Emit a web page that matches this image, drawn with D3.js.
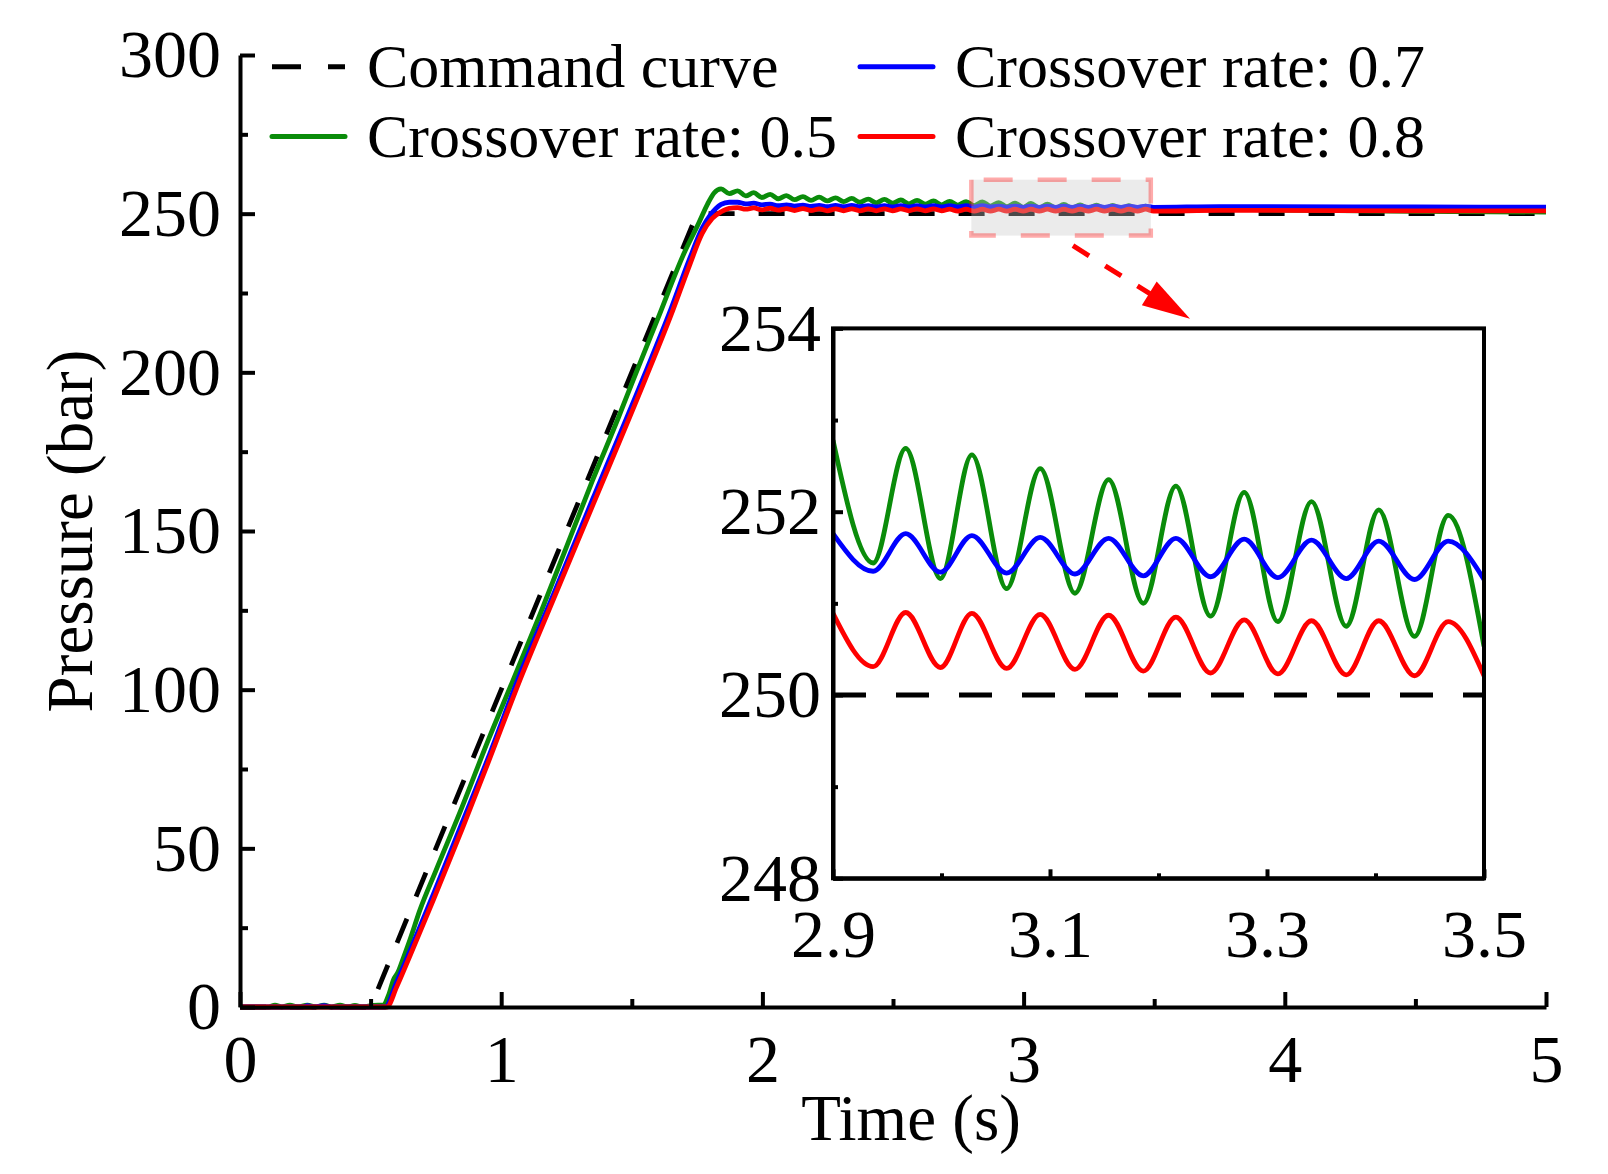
<!DOCTYPE html>
<html><head><meta charset="utf-8">
<script src="https://cdn.jsdelivr.net/npm/d3@7"></script>
<style>
body{margin:0;background:#fff}
svg{display:block}
text{font-family:"Liberation Serif","Times New Roman",serif;fill:#000}
</style>
</head><body>
<svg id="c" width="1608" height="1174"></svg>
<script>
// ---------------- DATA ----------------
const seriesNames = ["Command curve","Crossover rate: 0.5","Crossover rate: 0.7","Crossover rate: 0.8"];
const seriesColors = ["#000000","#0a8c0a","#0000ff","#ff0000"];

const xTicksMain = [0,1,2,3,4,5];
const yTicksMain = [0,50,100,150,200,250,300];
const xTicksInset = [2.9,3.1,3.3,3.5];
const yTicksInset = [248,250,252,254];

// command curve (time s, pressure bar)
const commandMain = [[0,0],[0.5,0],[1.75,250],[5,250]];

// rising part of the responses
const greenRise = [[0,0],[0.11,0],[0.134,0.6],[0.16,0],[0.191,0.6],[0.22,0],[0.258,0.6],[0.29,0],[0.322,0.6],[0.35,0],[0.383,0.6],[0.41,0],[0.44,0.5],[0.47,0],[0.51,0.5],[0.547,0.6],[0.57,4],[0.587,8.5],[0.605,11],[0.619,14],[0.65,21],[0.689,30.6],[0.75,43],[0.85,63],[0.95,84],[1.046,103.1],[1.15,124],[1.25,145],[1.35,166],[1.45,186],[1.506,197.7],[1.60,217],[1.70,237.5],[1.755,246.8],[1.79,253],[1.815,256.5]];
const blueRise = [[0,0],[0.24,0],[0.258,0.4],[0.28,0],[0.322,0.4],[0.35,0],[0.556,0],[0.598,7.5],[0.65,17.5],[0.74,35.5],[0.85,58],[0.95,78.5],[1.07,104.5],[1.2,130],[1.35,160],[1.55,199.5],[1.65,220],[1.72,235.5],[1.77,245.5],[1.80,249.5],[1.822,251.6]];
const redRise = [[0,0],[0.562,0],[0.600,6.4],[0.65,16],[0.74,33.7],[0.85,56],[0.95,77],[1.072,103.1],[1.2,128.5],[1.35,158],[1.551,197.7],[1.65,218],[1.72,233.5],[1.769,243.7],[1.808,248.5]];

// plateau oscillation extremes (shared times)
const plateauT = [1.842,1.873,1.905,1.936,1.967,1.998,2.030,2.061,2.092,2.123,
  2.155,2.186,2.217,2.248,2.280,2.311,2.342,2.373,2.405,2.436,
  2.467,2.498,2.530,2.561,2.592,2.623,2.655,2.686,2.717,2.748,
  2.780,2.811,2.842,2.873,2.905,2.936,2.967,2.999,3.028,3.060,
  3.091,3.123,3.154,3.186,3.216,3.248,3.279,3.310,3.341,3.373,
  3.403,3.436,3.467,3.498];
const greenPlateau = [257.8,256.3,257.2,255.6,256.6,255.1,256.1,254.7,255.7,254.4,
  255.4,254.2,255.2,254.0,255.0,253.8,254.8,253.6,254.6,253.4,
  254.5,253.3,254.3,253.1,254.2,253.0,254.0,252.8,253.9,252.7,
  253.8,252.5,253.7,252.4,253.5,252.2,253.3,252.0,253.2,251.9,
  253.0,251.8,252.9,251.7,252.8,251.6,252.7,251.5,252.6,251.4,
  252.5,251.3,252.4,251.2];
const bluePlateau = [252.9,253.6,253.6,253.1,253.3,252.8,253.0,252.5,252.8,252.4,
  252.7,252.3,252.6,252.2,252.6,252.2,252.6,252.2,252.5,252.1,
  252.5,252.1,252.5,252.1,252.5,252.1,252.5,252.1,252.5,252.1,
  252.5,252.1,252.5,252.1,252.4,252.0,252.4,252.0,252.4,252.0,
  252.4,252.0,252.4,252.0,252.4,252.0,252.4,252.0,252.4,252.0,
  252.4,252.0,252.4,252.0];
const redPlateau = [250.6,251.7,251.9,251.4,251.8,251.2,251.7,251.1,251.6,251.0,
  251.6,251.0,251.5,250.9,251.5,250.9,251.5,250.9,251.5,250.9,
  251.5,250.9,251.5,250.9,251.5,250.9,251.5,250.9,251.4,250.8,
  251.4,250.8,251.4,250.8,251.4,250.8,251.4,250.8,251.4,250.8,
  251.4,250.8,251.4,250.8,251.4,250.8,251.4,250.8,251.4,250.8,
  251.4,250.8,251.4,250.8];

// tail
const greenTail = [[3.6,251.7],[4.0,251.1],[4.5,250.7],[5.0,250.5]];
const blueTail = [[3.75,252.2],[4.5,252.1],[5.0,252.05]];
const redTail = [[3.75,251.05],[4.5,250.9],[5.0,250.85]];

// inset (zoomed 2.9 - 3.5 s)
const insetT = [2.900,2.937,2.967,2.999,3.028,3.060,3.091,3.123,3.154,3.186,
  3.216,3.248,3.279,3.310,3.341,3.373,3.403,3.436,3.467,3.500];
const insetGreen = [252.78,251.44,252.69,251.27,252.62,251.16,252.47,251.11,252.35,251.00,
  252.28,250.86,252.21,250.80,252.11,250.75,252.02,250.64,251.96,250.53];
const insetBlue = [251.76,251.35,251.76,251.34,251.74,251.33,251.72,251.32,251.71,251.30,
  251.71,251.29,251.70,251.28,251.69,251.27,251.68,251.26,251.68,251.26];
const insetRed = [250.89,250.31,250.90,250.30,250.89,250.29,250.88,250.28,250.87,250.26,
  250.85,250.24,250.82,250.23,250.81,250.22,250.81,250.21,250.80,250.21];
const insetCommand = [[2.9,250],[3.5,250]];

// zoom highlight region (data coords of main plot) and arrow
const zoomBoxX = [2.80,3.487];
const zoomBoxY = [243.1,260.7];
const arrowFrom = [3.189,239.9];
const arrowTo = [3.637,216.9];

// ---------------- BUILD ----------------
const svg = d3.select("#c");
const FONT_TICK = 68, FONT_TITLE = 65, FONT_LEG = 62;
const LW = 4.8, AW = 4;

const x = d3.scaleLinear().domain([0,5]).range([240,1546]);
const y = d3.scaleLinear().domain([0,300]).range([1007,55]);

const zip = (ts, vs) => ts.map((t,i)=>[t,vs[i]]);
const mainSeries = [
  commandMain,
  greenRise.concat(zip(plateauT, greenPlateau), greenTail),
  blueRise.concat(zip(plateauT, bluePlateau), blueTail),
  redRise.concat(zip(plateauT, redPlateau), redTail)
];

function styleAxis(g, fs){
  g.selectAll("path.domain").attr("stroke","#000").attr("stroke-width",AW);
  g.selectAll(".tick line").attr("stroke","#000").attr("stroke-width",AW);
  g.selectAll(".tick text").attr("font-size",fs).attr("font-family",'"Liberation Serif","Times New Roman",serif').attr("fill","#000");
  g.attr("font-size",fs);
}

// main lines
const lineM = d3.line().x(d=>x(d[0])).y(d=>y(d[1]));
mainSeries.forEach((s,i)=>{
  svg.append("path").datum(s)
    .attr("d", lineM.curve(i===0 ? d3.curveLinear : d3.curveMonotoneX)(s))
    .attr("fill","none").attr("stroke",seriesColors[i]).attr("stroke-width",LW)
    .attr("stroke-linejoin","round")
    .attr("stroke-dasharray", i===0 ? "26,24" : null);
});

// main axes
const gx = svg.append("g").attr("transform",`translate(0,${y(0)})`)
  .call(d3.axisBottom(x).tickValues(xTicksMain).tickFormat(d3.format("d")).tickSizeInner(-15).tickSizeOuter(0).tickPadding(27));
styleAxis(gx, FONT_TICK);
const gxm = svg.append("g").attr("transform",`translate(0,${y(0)})`)
  .call(d3.axisBottom(x).tickValues([0.5,1.5,2.5,3.5,4.5]).tickFormat("").tickSizeInner(-8).tickSizeOuter(0));
styleAxis(gxm, FONT_TICK);
gxm.select("path.domain").remove();

const gy = svg.append("g").attr("transform",`translate(${x(0)},0)`)
  .call(d3.axisLeft(y).tickValues(yTicksMain).tickFormat(d3.format("d")).tickSizeInner(-15).tickSizeOuter(0).tickPadding(19));
styleAxis(gy, FONT_TICK);
const gym = svg.append("g").attr("transform",`translate(${x(0)},0)`)
  .call(d3.axisLeft(y).tickValues([25,75,125,175,225,275]).tickFormat("").tickSizeInner(-8).tickSizeOuter(0));
styleAxis(gym, FONT_TICK);
gym.select("path.domain").remove();

// axis titles
svg.append("text").attr("x",911).attr("y",1140).attr("text-anchor","middle")
  .attr("font-size",FONT_TITLE).text("Time (s)");
svg.append("text").attr("transform",`translate(92,${(y(0)+y(300))/2}) rotate(-90)`)
  .attr("text-anchor","middle").attr("font-size",FONT_TITLE).text("Pressure (bar)");

// highlight box (semi-transparent over the lines)
const bx0 = x(zoomBoxX[0]), bx1 = x(zoomBoxX[1]), by0 = y(zoomBoxY[1]), by1 = y(zoomBoxY[0]);
svg.append("rect").attr("x",bx0).attr("y",by0).attr("width",bx1-bx0).attr("height",by1-by0)
  .attr("fill","rgb(201,201,201)").attr("fill-opacity",0.37)
  .attr("stroke","rgba(255,0,0,0.33)").attr("stroke-width",4.5)
  .attr("stroke-dasharray","29,25").attr("stroke-dashoffset",41.7);

// arrow
const ax0 = x(arrowFrom[0]), ay0 = y(arrowFrom[1]), ax1 = x(arrowTo[0]), ay1 = y(arrowTo[1]);
const alen = Math.hypot(ax1-ax0, ay1-ay0), ux = (ax1-ax0)/alen, uy = (ay1-ay0)/alen;
const headL = 48, headW = 14;
svg.append("line").attr("x1",ax0).attr("y1",ay0)
  .attr("x2",ax1-ux*(headL-4)).attr("y2",ay1-uy*(headL-4))
  .attr("stroke","#ff0000").attr("stroke-width",5).attr("stroke-dasharray","19,19");
const bxh = ax1-ux*headL, byh = ay1-uy*headL;
svg.append("polygon").attr("points",
  [[ax1,ay1],[bxh-uy*headW, byh+ux*headW],[bxh+uy*headW, byh-ux*headW]].map(p=>p.join(",")).join(" "))
  .attr("fill","#ff0000");

// ---------------- INSET ----------------
const xi = d3.scaleLinear().domain([2.9,3.5]).range([833,1484]);
const yi = d3.scaleLinear().domain([248,254]).range([878.3,328.4]);
svg.append("rect").attr("x",833).attr("y",yi(254)).attr("width",xi(3.5)-xi(2.9)).attr("height",yi(248)-yi(254)).attr("fill","#fff");
svg.append("clipPath").attr("id","ic").append("rect")
  .attr("x",xi(2.9)).attr("y",yi(254)).attr("width",xi(3.5)-xi(2.9)).attr("height",yi(248)-yi(254));
const insetSeries = [insetCommand, zip(insetT, insetGreen), zip(insetT, insetBlue), zip(insetT, insetRed)];
const lineI = d3.line().x(d=>xi(d[0])).y(d=>yi(d[1]));
const gi = svg.append("g").attr("clip-path","url(#ic)");
insetSeries.forEach((s,i)=>{
  gi.append("path")
    .attr("d", lineI.curve(i===0 ? d3.curveLinear : d3.curveMonotoneX)(s))
    .attr("fill","none").attr("stroke",seriesColors[i]).attr("stroke-width",LW)
    .attr("stroke-linejoin","round")
    .attr("stroke-dasharray", i===0 ? "33,30" : null);
});
const gix = svg.append("g").attr("transform",`translate(0,${yi(248)})`)
  .call(d3.axisBottom(xi).tickValues(xTicksInset).tickFormat(d3.format(".1f")).tickSizeInner(-9).tickSizeOuter(0).tickPadding(30));
styleAxis(gix, FONT_TICK);
const gixm = svg.append("g").attr("transform",`translate(0,${yi(248)})`)
  .call(d3.axisBottom(xi).tickValues([3.0,3.2,3.4]).tickFormat("").tickSizeInner(-5).tickSizeOuter(0));
styleAxis(gixm, FONT_TICK); gixm.select("path.domain").remove();
const giy = svg.append("g").attr("transform",`translate(${xi(2.9)},0)`)
  .call(d3.axisLeft(yi).tickValues(yTicksInset).tickFormat(d3.format("d")).tickSizeInner(-10).tickSizeOuter(0).tickPadding(12));
styleAxis(giy, FONT_TICK);
const giym = svg.append("g").attr("transform",`translate(${xi(2.9)},0)`)
  .call(d3.axisLeft(yi).tickValues([249,251,253]).tickFormat("").tickSizeInner(-5).tickSizeOuter(0));
styleAxis(giym, FONT_TICK); giym.select("path.domain").remove();
svg.append("rect").attr("x",xi(2.9)).attr("y",yi(254)).attr("width",xi(3.5)-xi(2.9)).attr("height",yi(248)-yi(254))
  .attr("fill","none").attr("stroke","#000").attr("stroke-width",AW);

// ---------------- LEGEND ----------------
const legPos = [[272,66.7],[272,136.5],[860,66.7],[860,136.5]]; // order: command, 0.5, 0.7, 0.8
seriesNames.forEach((n,i)=>{
  const [lx,ly] = legPos[i];
  svg.append("line").attr("x1",lx).attr("x2",lx+73).attr("y1",ly).attr("y2",ly)
    .attr("stroke",seriesColors[i]).attr("stroke-width",5)
    .attr("stroke-linecap", i===0 ? "butt" : "round")
    .attr("stroke-dasharray", i===0 ? "29,27" : null);
  svg.append("text").attr("x",lx+95).attr("y",ly).attr("dy","0.33em")
    .attr("font-size",FONT_LEG).text(n);
});
</script>
</body></html>
